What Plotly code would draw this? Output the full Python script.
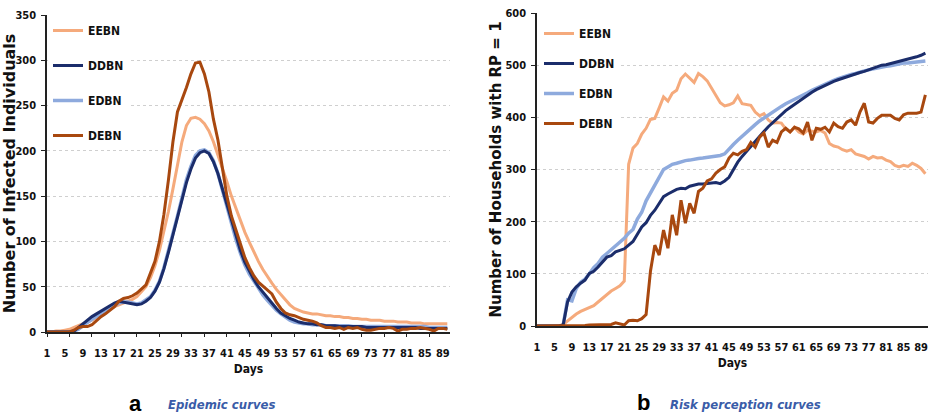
import plotly.graph_objects as go

days = list(range(1, 91))
x_tick_vals = list(range(1, 90, 4))
x_tick_labels = [str(v) for v in x_tick_vals]

series_names = ["EEBN", "DDBN", "EDBN", "DEBN"]
colors = {"EEBN": "#F5AA7C", "DDBN": "#1B2D6B", "EDBN": "#8EAADD", "DEBN": "#A8480F"}

# ---- Panel a: number of infected individuals ----
inf_EEBN = [0, 0, 1, 1, 2, 3, 5, 7, 9, 11, 13, 16, 19, 22, 25, 28, 30, 32, 34, 36,
            39, 44, 50, 60, 73, 90, 110, 133, 158, 185, 210, 228, 236, 237, 235, 230, 222, 210, 196, 181,
            166, 150, 136, 122, 110, 99, 88, 78, 69, 61, 54, 47, 41, 35, 30, 26, 24, 22, 21, 20,
            20, 19, 18, 18, 17, 17, 16, 16, 15, 15, 14, 14, 13, 13, 13, 12, 12, 12, 11, 11,
            11, 10, 10, 10, 9, 9, 9, 9, 9, 9]
inf_DDBN = [0, 0, 0, 0, 0, 0, 1, 5, 10, 14, 17, 20, 23, 26, 29, 32, 34, 33, 32, 31,
            30, 31, 34, 38, 45, 55, 70, 88, 108, 127, 146, 165, 180, 192, 198, 200, 197, 188, 175, 158,
            140, 122, 105, 90, 77, 67, 58, 50, 44, 37, 31, 26, 21, 18, 15, 13, 11, 10, 9, 9,
            8, 8, 7, 7, 7, 6, 6, 6, 6, 6, 6, 5, 5, 5, 5, 5, 5, 5, 5, 5,
            5, 5, 5, 4, 4, 4, 4, 4, 4, 4]
inf_EDBN = [0, 0, 0, 0, 0, 0, 1, 3, 7, 11, 14, 17, 20, 23, 26, 29, 32, 33, 33, 32,
            31, 32, 35, 39, 46, 56, 71, 89, 109, 128, 148, 168, 183, 195, 200, 201, 198, 189, 175, 157,
            138, 119, 102, 87, 74, 64, 56, 48, 41, 35, 29, 24, 20, 16, 13, 11, 10, 9, 9, 8,
            8, 8, 7, 7, 7, 7, 7, 7, 6, 6, 6, 6, 6, 6, 6, 6, 6, 6, 6, 6,
            6, 6, 6, 6, 6, 5, 5, 5, 5, 5]
inf_DEBN = [0, 0, 0, 0, 0, 0, 2, 5, 6, 6, 8, 13, 17, 20, 24, 28, 34, 37, 38, 40,
            43, 48, 52, 65, 78, 100, 130, 168, 210, 243, 256, 270, 285, 297, 298, 285, 265, 235, 212, 180,
            150, 128, 112, 97, 82, 71, 62, 55, 51, 46, 42, 33, 26, 21, 19, 18, 16, 14, 13, 12,
            10, 7, 5, 5, 4, 5, 3, 5, 4, 5, 3, 2, 2, 3, 4, 4, 5, 4, 1, 3,
            3, 4, 4, 5, 4, 3, 1, 4, 4, 3]

# ---- Panel b: number of households with RP = 1 ----
rp_EEBN = [0, 0, 0, 0, 0, 0, 3, 10, 17, 23, 28, 32, 35, 39, 46, 53, 60, 67, 72, 77,
           86, 310, 341, 350, 368, 379, 396, 398, 418, 439, 431, 446, 452, 474, 483, 474, 467, 484, 478, 470,
           456, 440, 428, 422, 424, 428, 441, 426, 425, 423, 410, 403, 407, 395, 389, 390, 389, 378, 372, 381,
           372, 368, 375, 373, 372, 375, 370, 350, 345, 343, 338, 335, 338, 330, 328, 325, 320, 325, 322, 323,
           318, 315, 308, 305, 308, 306, 312, 308, 302, 292]
rp_DDBN = [0, 0, 0, 0, 0, 0, 2, 46, 65, 75, 82, 88, 101, 105, 113, 122, 132, 135, 142, 145,
           148, 155, 162, 176, 190, 198, 212, 222, 236, 248, 253, 258, 262, 264, 263, 268, 270, 272, 272, 273,
           274, 275, 273, 278, 285, 300, 314, 325, 335, 344, 353, 364, 373, 382, 390, 398, 405, 413, 419, 425,
           430, 437, 442, 448, 453, 457, 462, 465, 469, 472, 475, 477, 480, 483, 486, 488, 491, 494, 497, 500,
           501, 503, 505, 507, 510, 511, 514, 516, 519, 523]
rp_EDBN = [0, 0, 0, 0, 0, 0, 2, 50, 48, 72, 84, 90, 100, 112, 120, 132, 139, 146, 152, 160,
           168, 178, 185, 205, 218, 240, 255, 270, 285, 300, 305, 310, 312, 315, 317, 318, 320, 321, 322, 323,
           324, 325, 327, 330, 340, 348, 356, 364, 372, 380, 386, 393, 399, 405, 410, 416, 421, 426, 430, 434,
           438, 443, 447, 452, 456, 460, 464, 467, 471, 474, 477, 480, 482, 484, 487, 489, 491, 493, 495, 497,
           498, 499, 501, 502, 504, 504, 505, 506, 507, 508]
rp_DEBN = [0, 0, 0, 0, 0, 0, 0, 0, 0, 0, 1, 1, 2, 2, 2, 2, 2, 3, 6, 4,
           2, 10, 11, 10, 14, 22, 105, 155, 136, 184, 149, 213, 174, 241, 197, 235, 216, 258, 264, 278,
           282, 293, 300, 305, 322, 331, 328, 335, 338, 352, 343, 362, 370, 343, 356, 352, 372, 379, 372, 381,
           378, 370, 391, 356, 379, 377, 381, 372, 389, 382, 379, 391, 395, 385, 410, 427, 391, 389, 398, 404,
           404, 404, 398, 395, 405, 408, 408, 408, 410, 443]

infected = {"EEBN": inf_EEBN, "DDBN": inf_DDBN, "EDBN": inf_EDBN, "DEBN": inf_DEBN}
risk = {"EEBN": rp_EEBN, "DDBN": rp_DDBN, "EDBN": rp_EDBN, "DEBN": rp_DEBN}
widths = {"EEBN": 3, "DDBN": 3, "EDBN": 3.5, "DEBN": 3}
draw_order = ["EEBN", "EDBN", "DDBN", "DEBN"]

W, H = 931, 415
def px_x(p):
    return p / W
def px_y(p):
    return 1 - p / H

NARROW = "DejaVu Sans Condensed, Liberation Sans Narrow, sans-serif"
WIDE = "DejaVu Sans, Verdana, sans-serif"

fig = go.Figure()
for name in draw_order:
    fig.add_trace(go.Scatter(
        x=days, y=infected[name], mode="lines", name=name,
        line=dict(color=colors[name], width=widths[name]),
        xaxis="x", yaxis="y", legend="legend", legendgroup="a" + name,
        legendrank=series_names.index(name) + 1,
    ))
for name in draw_order:
    fig.add_trace(go.Scatter(
        x=days, y=risk[name], mode="lines", name=name,
        line=dict(color=colors[name], width=widths[name]),
        xaxis="x2", yaxis="y2", legend="legend2", legendgroup="b" + name,
        legendrank=series_names.index(name) + 1,
    ))
# invisible trace carrying the minor tick axis of panel a
fig.add_trace(go.Scatter(x=[days[0], days[-1]], y=[0, 0], mode="lines",
                         line=dict(width=0), opacity=0, showlegend=False,
                         hoverinfo="skip", xaxis="x3", yaxis="y"))

tickfont = dict(family=NARROW, size=11, color="#111111", weight="bold")
titlefont_days = dict(family=NARROW, size=12, color="#111111", weight="bold")

xrange_ = [1, 90.6]
common_x = dict(tickmode="array", tickvals=x_tick_vals, ticktext=x_tick_labels,
                tickfont=tickfont, tickangle=0, showgrid=False, showline=True, linecolor="#222222",
                linewidth=1.5, ticks="", zeroline=False, ticklabelstandoff=10, automargin=False,
                title=dict(text="Days", font=titlefont_days, standoff=6))
fig.update_layout(
    width=W, height=H, autosize=False,
    margin=dict(l=0, r=0, t=0, b=0, autoexpand=False),
    paper_bgcolor="white", plot_bgcolor="white",
    showlegend=True,
    xaxis=dict(domain=[px_x(47), px_x(450)], range=xrange_, anchor="y", **common_x),
    xaxis3=dict(domain=[px_x(47), px_x(450)], range=xrange_, anchor="y", overlaying="x",
                tickmode="linear", tick0=1, dtick=5, ticks="outside", ticklen=4,
                tickcolor="#222222", showticklabels=False, showgrid=False,
                showline=False, zeroline=False, automargin=False),
    yaxis=dict(domain=[px_y(332), px_y(15)], range=[0, 350], dtick=50, anchor="x",
               tickfont=tickfont, showgrid=True, gridcolor="#CFCFCF", griddash="dot",
               gridwidth=1, showline=True, linecolor="#222222", linewidth=1.5,
               ticks="outside", ticklen=4, tickcolor="#222222", zeroline=False,
               ticklabelstandoff=3, automargin=False,
               title=dict(text="Number of Infected Individuals",
                          font=dict(family=WIDE, size=16, color="#111111", weight="bold"),
                          standoff=2)),
    xaxis2=dict(domain=[px_x(537), px_x(928)], range=xrange_, anchor="y2", **common_x),
    yaxis2=dict(domain=[px_y(326), px_y(13)], range=[0, 600], dtick=100, anchor="x2",
                tickfont=tickfont, showgrid=True, gridcolor="#CFCFCF", griddash="dot",
                gridwidth=1, showline=True, linecolor="#222222", linewidth=1.5,
                ticks="outside", ticklen=4, tickcolor="#222222", zeroline=False,
                ticklabelstandoff=3, automargin=False,
                title=dict(text="Number of Households with RP = 1",
                           font=dict(family=WIDE, size=15, color="#111111", weight="bold"),
                           standoff=0)),
    legend=dict(x=px_x(48), y=px_y(16), xanchor="left", yanchor="top",
                bgcolor="white", font=dict(family=NARROW, size=12, color="#111111", weight="bold"),
                tracegroupgap=16, itemwidth=30),
    legend2=dict(x=px_x(539), y=px_y(19), xanchor="left", yanchor="top",
                 bgcolor="white", font=dict(family=NARROW, size=12, color="#111111", weight="bold"),
                 tracegroupgap=11, itemwidth=30),
    annotations=[
        dict(text="a", x=px_x(135), y=px_y(403), xref="paper", yref="paper",
             showarrow=False, xanchor="center", yanchor="middle",
             font=dict(family="Liberation Sans, Arial, sans-serif", size=22, color="#000000", weight="bold")),
        dict(text="<i>Epidemic curves</i>", x=px_x(166), y=px_y(404), xref="paper", yref="paper",
             showarrow=False, xanchor="left", yanchor="middle",
             font=dict(family=NARROW, size=13, color="#3A5CA8", weight="bold")),
        dict(text="b", x=px_x(643), y=px_y(402), xref="paper", yref="paper",
             showarrow=False, xanchor="center", yanchor="middle",
             font=dict(family="Liberation Sans, Arial, sans-serif", size=22, color="#000000", weight="bold")),
        dict(text="<i>Risk perception curves</i>", x=px_x(668), y=px_y(404), xref="paper", yref="paper",
             showarrow=False, xanchor="left", yanchor="middle",
             font=dict(family=NARROW, size=13, color="#3A5CA8", weight="bold")),
    ],
)

fig.write_html("out.html", config={"displayModeBar": False},
               post_script="document.body.style.margin='0';document.body.style.overflow='hidden';")
